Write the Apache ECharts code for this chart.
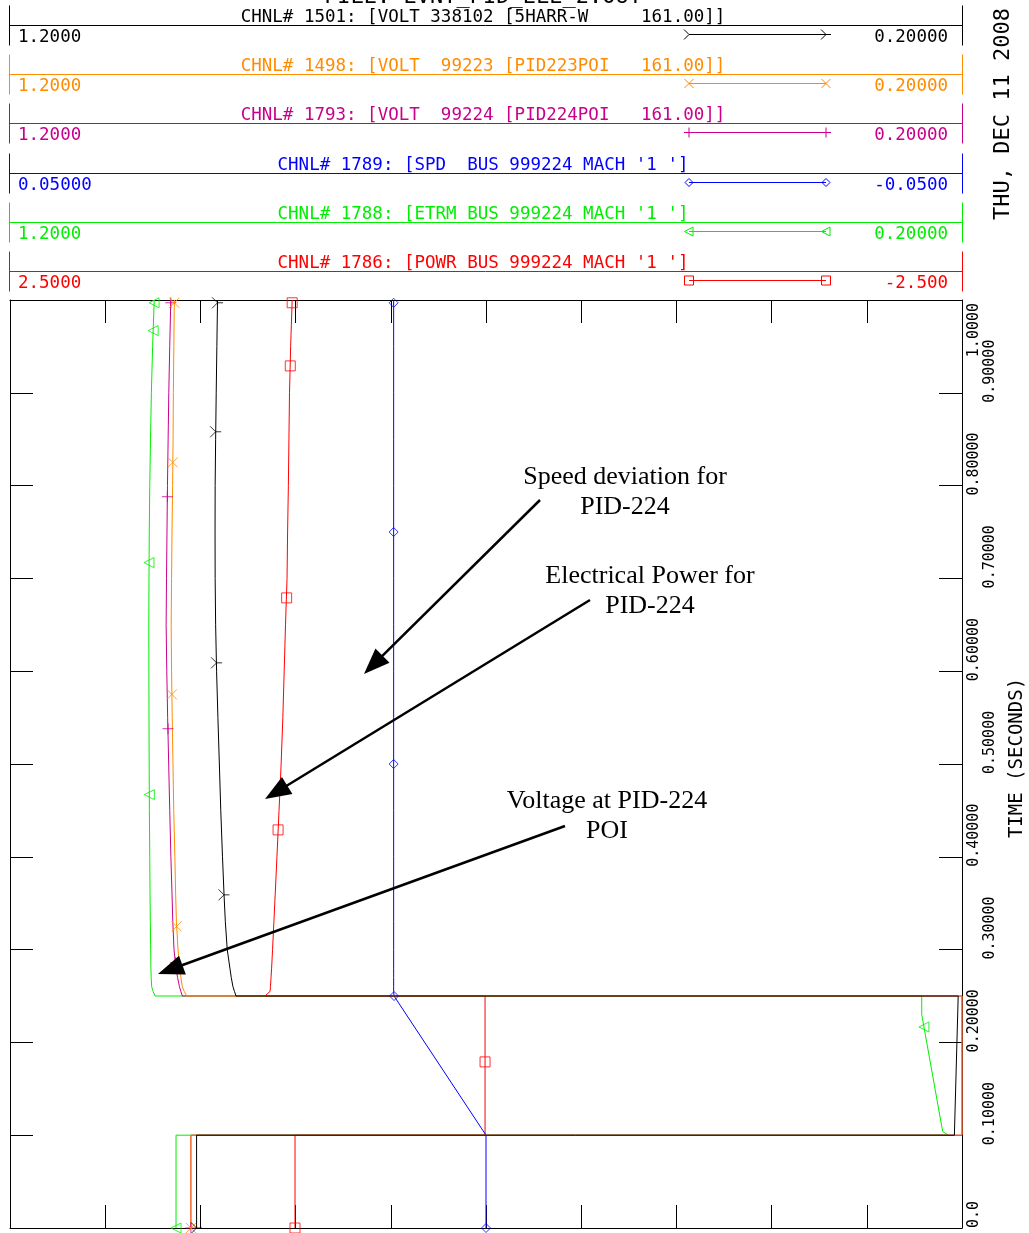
<!DOCTYPE html>
<html><head><meta charset="utf-8">
<script src="https://cdn.jsdelivr.net/npm/echarts@6/dist/echarts.min.js"></script>
<style>html,body{margin:0;padding:0;background:#fff}#c{width:1029px;height:1233px}</style>
</head><body><div id="c"></div>
<script>
// ---------------- DATA ----------------
const channelTitles = [
  'CHNL# 1501: [VOLT 338102 [5HARR-W     161.00]]',
  'CHNL# 1498: [VOLT  99223 [PID223POI   161.00]]',
  'CHNL# 1793: [VOLT  99224 [PID224POI   161.00]]',
  "CHNL# 1789: [SPD  BUS 999224 MACH '1 ']",
  "CHNL# 1788: [ETRM BUS 999224 MACH '1 ']",
  "CHNL# 1786: [POWR BUS 999224 MACH '1 ']"
];
const leftScale  = [1.2, 1.2, 1.2, 0.05, 1.2, 2.5];
const rightScale = [0.2, 0.2, 0.2, -0.05, 0.2, -2.5];
const leftLabels  = ['1.2000', '1.2000', '1.2000', '0.05000', '1.2000', '2.5000'];
const rightLabels = ['0.20000', '0.20000', '0.20000', '-0.0500', '0.20000', '-2.500'];
const timeLabels = ['0.0','0.10000','0.20000','0.30000','0.40000','0.50000','0.60000','0.70000','0.80000','0.90000','1.0000'];

// time samples (s)
const tBase = [0, 0.1, 0.1, 0.25, 0.25, 0.255, 0.26, 0.27, 0.28, 0.30, 0.33, 0.36, 0.40, 0.45, 0.50, 0.55, 0.60, 0.65, 0.70, 0.75, 0.80, 0.85, 0.90, 0.95, 1.0];
const tGreen = [0, 0.1, 0.1, 0.104, 0.23, 0.25, 0.25, 0.255, 0.26, 0.27, 0.28, 0.30, 0.33, 0.36, 0.40, 0.45, 0.50, 0.55, 0.60, 0.65, 0.70, 0.75, 0.80, 0.85, 0.90, 0.95, 1.0];

// channel values
const v1501 = [1.004, 1.004, 0.208, 0.204, 0.9626, 0.9642, 0.9658, 0.9676, 0.969, 0.9718, 0.9738, 0.9752, 0.9768, 0.9786, 0.9801, 0.9816, 0.983, 0.984, 0.9845, 0.9846, 0.9845, 0.984, 0.9834, 0.9827, 0.982];
const v1498 = [1.010, 1.010, 0.2, 0.2, 1.0144, 1.017, 1.019, 1.0205, 1.0218, 1.0235, 1.0252, 1.026, 1.0268, 1.028, 1.0288, 1.0296, 1.0303, 1.0307, 1.0303, 1.0298, 1.0292, 1.0287, 1.0284, 1.0279, 1.0274];
const v1793 = [1.010, 1.010, 0.2, 0.2, 1.019, 1.0205, 1.022, 1.024, 1.0257, 1.0277, 1.029, 1.0298, 1.031, 1.0322, 1.0333, 1.0344, 1.0353, 1.036, 1.0356, 1.0351, 1.0346, 1.0339, 1.0332, 1.0322, 1.0311];
const v1789 = [0.0, 0.0, 0.0, 0.00966, 0.00966, 0.0097, 0.0097, 0.0097, 0.0097, 0.0097, 0.0097, 0.0097, 0.0097, 0.0097, 0.0097, 0.0097, 0.0097, 0.0097, 0.0097, 0.0097, 0.0097, 0.0097, 0.0097, 0.0097, 0.0097];
const v1788 = [1.0256, 1.0256, 0.2144, 0.2203, 0.2423, 0.2423, 1.0477, 1.0497, 1.0512, 1.0517, 1.052, 1.0522, 1.0526, 1.0529, 1.0532, 1.0536, 1.0538, 1.054, 1.0541, 1.0542, 1.054, 1.0537, 1.0532, 1.0524, 1.0515, 1.0502, 1.0485];
const v1786 = [1.003, 1.003, 0.005, 0.005, 1.161, 1.134, 1.132, 1.129, 1.126, 1.121, 1.114, 1.107, 1.098, 1.087, 1.076, 1.067, 1.060, 1.053, 1.045, 1.042, 1.038, 1.035, 1.032, 1.026, 1.018];

// curve markers [time, value]
const m1501 = [[0, 1.004], [0.359, 0.9752], [0.609, 0.983], [0.858, 0.984], [0.997, 0.982]];
const m1498 = [[0, 1.010], [0.325, 1.025], [0.575, 1.030], [0.825, 1.029], [0.997, 1.0274]];
const m1793 = [[0, 1.010], [0.286, 1.026], [0.538, 1.034], [0.788, 1.0347], [0.997, 1.0311]];
const m1789 = [[0, 0.0], [0.25, 0.00966], [0.5, 0.0097], [0.75, 0.0097], [0.997, 0.0097]];
const m1788 = [[0, 1.0256], [0.2166, 0.240], [0.467, 1.0536], [0.717, 1.054], [0.967, 1.0496], [0.997, 1.0487]];
const m1786 = [[0, 1.003], [0.179, 0.005], [0.429, 1.092], [0.679, 1.047], [0.929, 1.028], [0.997, 1.018]];

const annotations = [
  {text: 'Speed deviation for\nPID-224', x: 625, y: 492, from: [540, 500], to: [364, 674]},
  {text: 'Electrical Power for\nPID-224', x: 650, y: 591, from: [590, 600], to: [265, 799]},
  {text: 'Voltage at PID-224\nPOI', x: 607, y: 816, from: [565, 826], to: [158, 974]}
];

// ---------------- STYLE ----------------
const colors = ['#000000', '#FF8C00', '#C8008C', '#0000FF', '#00EE00', '#FF0000'];
const MONO = '"DejaVu Sans Mono", "Liberation Mono", monospace';
const symPaths = {
  fork: 'path://M0,0L5,5L0,10M5,5L10,5',
  cross: 'path://M0,0L10,10M10,0L0,10',
  plus: 'path://M5,0L5,10M0,5L10,5'
};
const chanTimes = [tBase, tBase, tBase, tBase, tGreen, tBase];
const chanVals = [v1501, v1498, v1793, v1789, v1788, v1786];
const chanMarks = [m1501, m1498, m1793, m1789, m1788, m1786];
const chanSym = [
  {symbol: symPaths.fork, size: 11, rot: 0},
  {symbol: symPaths.cross, size: 10, rot: 0},
  {symbol: symPaths.plus, size: 11, rot: 0},
  {symbol: 'diamond', size: 9, rot: 0},
  {symbol: 'triangle', size: 10, rot: 90},
  {symbol: 'rect', size: 10, rot: 0}
];
function headerMarker(i, px, py, c) {
  const st = {fill: 'none', stroke: c, lineWidth: 1};
  const ln = (a, b, d, e) => ({type: 'line', shape: {x1: px + a, y1: py + b, x2: px + d, y2: py + e}, style: st});
  switch (i) {
    case 0: return [{type: 'polyline', shape: {points: [[px - 5, py - 5], [px, py], [px - 5, py + 5]]}, style: st}, ln(0, 0, 5, 0)];
    case 1: return [ln(-4.5, -4.5, 4.5, 4.5), ln(4.5, -4.5, -4.5, 4.5)];
    case 2: return [ln(0, -5, 0, 5), ln(-5, 0, 5, 0)];
    case 3: return [{type: 'polygon', shape: {points: [[px, py - 4], [px + 4, py], [px, py + 4], [px - 4, py]]}, style: st}];
    case 4: return [{type: 'polygon', shape: {points: [[px + 4, py - 4.5], [px + 4, py + 4.5], [px - 4.5, py]]}, style: st}];
    default: return [{type: 'rect', shape: {x: px - 4.5, y: py - 4.5, width: 9, height: 9}, style: st}];
  }
}

// ---------------- BUILD ----------------
const chart = echarts.init(document.getElementById('c'));

const xAxes = leftScale.map((l, i) => ({
  type: 'value', gridIndex: 0, show: false,
  min: Math.min(l, rightScale[i]), max: Math.max(l, rightScale[i]),
  inverse: l > rightScale[i],
  axisLine: {onZero: false}
}));
const tickAxisBase = {
  type: 'value', min: 0, max: 10, interval: 1,
  axisLine: {show: true, onZero: false, lineStyle: {color: '#000', width: 1}},
  axisTick: {show: true, inside: true, length: 23, lineStyle: {color: '#000', width: 1}},
  axisLabel: {show: false}, splitLine: {show: false}
};
xAxes.push(Object.assign({position: 'bottom'}, tickAxisBase));
xAxes.push(Object.assign({position: 'top'}, tickAxisBase));

const CW = 9.03; // char advance of tick font
const richDef = {
  t: {fontFamily: MONO, fontSize: 15, color: '#000', lineHeight: 15},
  z: {width: 3 * CW, lineHeight: 15},
  m: {width: 7 * CW - 20, lineHeight: 15},
  e: {width: 6 * CW + 6, lineHeight: 15}
};
function tickLabel(v, wantEven) {
  const k = Math.round(v * 10);
  if ((k % 2 === 0) !== wantEven) return '';
  const txt = timeLabels[k];
  if (k === 10) return '{t|' + txt + '}{e| }';
  if (k === 0) return '{z| }{t|' + txt + '}';
  return '{m| }{t|' + txt + '}';
}
const yBase = {
  type: 'value', min: 0, max: 1, interval: 0.1, splitLine: {show: false}
};
const frameAxisLine = {show: true, onZero: false, lineStyle: {color: '#000', width: 1}};
const frameTick = {show: true, inside: true, length: 23, lineStyle: {color: '#000'}};
const yAxes = [
  Object.assign({}, yBase, {position: 'left', axisLine: frameAxisLine, axisTick: frameTick, axisLabel: {show: false}}),
  Object.assign({}, yBase, {position: 'right', axisLine: frameAxisLine, axisTick: frameTick, axisLabel: {show: false}}),
  Object.assign({}, yBase, {position: 'right', axisLine: {show: false, onZero: false}, axisTick: {show: false},
    axisLabel: {show: true, rotate: 90, margin: 5, fontFamily: MONO, fontSize: 15, color: '#000',
      formatter: v => tickLabel(v, true), rich: richDef}}),
  Object.assign({}, yBase, {position: 'right', axisLine: {show: false, onZero: false}, axisTick: {show: false},
    axisLabel: {show: true, rotate: 90, margin: 21, fontFamily: MONO, fontSize: 15, color: '#000',
      formatter: v => tickLabel(v, false), rich: richDef}})
];

const series = [];
const drawOrder = [5, 3, 4, 2, 1, 0];
drawOrder.forEach(i => {
  series.push({
    type: 'line', name: channelTitles[i], xAxisIndex: i, yAxisIndex: 0,
    data: chanTimes[i].map((t, j) => [chanVals[i][j], t]),
    showSymbol: false, symbol: 'none', smooth: false, clip: true,
    lineStyle: {color: colors[i], width: 1}, itemStyle: {color: colors[i]},
    silent: true, animation: false
  });
});
drawOrder.forEach(i => {
  series.push({
    type: 'scatter', xAxisIndex: i, yAxisIndex: 0, z: 5,
    data: chanMarks[i].map(p => [p[1], p[0]]),
    symbol: chanSym[i].symbol, symbolSize: chanSym[i].size, symbolRotate: chanSym[i].rot,
    itemStyle: {color: 'rgba(0,0,0,0)', borderColor: colors[i], borderWidth: 1},
    silent: true, animation: false, clip: false
  });
});

// header graphics
const g = [];
channelTitles.forEach((title, i) => {
  const y0 = Math.round(25 + 49.2 * i) + 0.5;
  const c = colors[i];
  g.push({type: 'line', shape: {x1: 9, y1: y0, x2: 962, y2: y0}, style: {stroke: c, lineWidth: 1}});
  g.push({type: 'line', shape: {x1: 9.5, y1: y0 - 20, x2: 9.5, y2: y0 + 20}, style: {stroke: c, lineWidth: 1}});
  g.push({type: 'line', shape: {x1: 962.5, y1: y0 - 20, x2: 962.5, y2: y0 + 20}, style: {stroke: c, lineWidth: 1}});
  g.push({type: 'text', x: 483, y: y0 - 8, style: {text: title, font: '17.5px ' + MONO, fill: c, align: 'center', verticalAlign: 'middle'}});
  g.push({type: 'text', x: 18, y: y0 + 12, style: {text: leftLabels[i], font: '17.5px ' + MONO, fill: c, align: 'left', verticalAlign: 'middle'}});
  g.push({type: 'text', x: 948, y: y0 + 12, style: {text: rightLabels[i], font: '17.5px ' + MONO, fill: c, align: 'right', verticalAlign: 'middle'}});
  g.push({type: 'line', shape: {x1: 689, y1: y0 + 9, x2: 826, y2: y0 + 9}, style: {stroke: c, lineWidth: 1}});
  [689, 826].forEach(px => { headerMarker(i, px, y0 + 9, c).forEach(el => g.push(el)); });
});
g.push({type: 'text', x: 483, y: -3, style: {text: 'FILE: EVNT_PID_ELE_2.OUT', font: '22px ' + MONO, fill: '#000', align: 'center', verticalAlign: 'middle'}});
g.push({type: 'text', x: 1003, y: 114, rotation: Math.PI / 2, style: {text: 'THU, DEC 11 2008', font: '22px ' + MONO, fill: '#000', align: 'center', verticalAlign: 'middle'}});
g.push({type: 'text', x: 1017, y: 758, rotation: Math.PI / 2, style: {text: 'TIME (SECONDS)', font: '19px ' + MONO, fill: '#000', align: 'center', verticalAlign: 'middle'}});

// annotations
annotations.forEach(a => {
  g.push({type: 'text', x: a.x, y: a.y, z: 100, style: {text: a.text, font: '26px "Liberation Serif", "Times New Roman", serif', lineHeight: 30, fill: '#000', align: 'center', verticalAlign: 'middle'}});
  const [x1, y1] = a.from, [x2, y2] = a.to;
  const dx = x2 - x1, dy = y2 - y1, L = Math.hypot(dx, dy), ux = dx / L, uy = dy / L;
  const hl = 26, hw = 10;
  const bx = x2 - ux * hl, by = y2 - uy * hl;
  g.push({type: 'line', z: 100, shape: {x1, y1, x2: bx + ux * 2, y2: by + uy * 2}, style: {stroke: '#000', lineWidth: 2.5}});
  g.push({type: 'polygon', z: 100, shape: {points: [[x2, y2], [bx - uy * hw, by + ux * hw], [bx + uy * hw, by - ux * hw]]}, style: {fill: '#000'}});
});

chart.setOption({
  backgroundColor: '#fff',
  animation: false,
  grid: {left: 10, right: 67, top: 300, bottom: 5, containLabel: false, outerBoundsMode: 'none'},
  xAxis: xAxes,
  yAxis: yAxes,
  series: series,
  graphic: {elements: g}
});
</script></body></html>
